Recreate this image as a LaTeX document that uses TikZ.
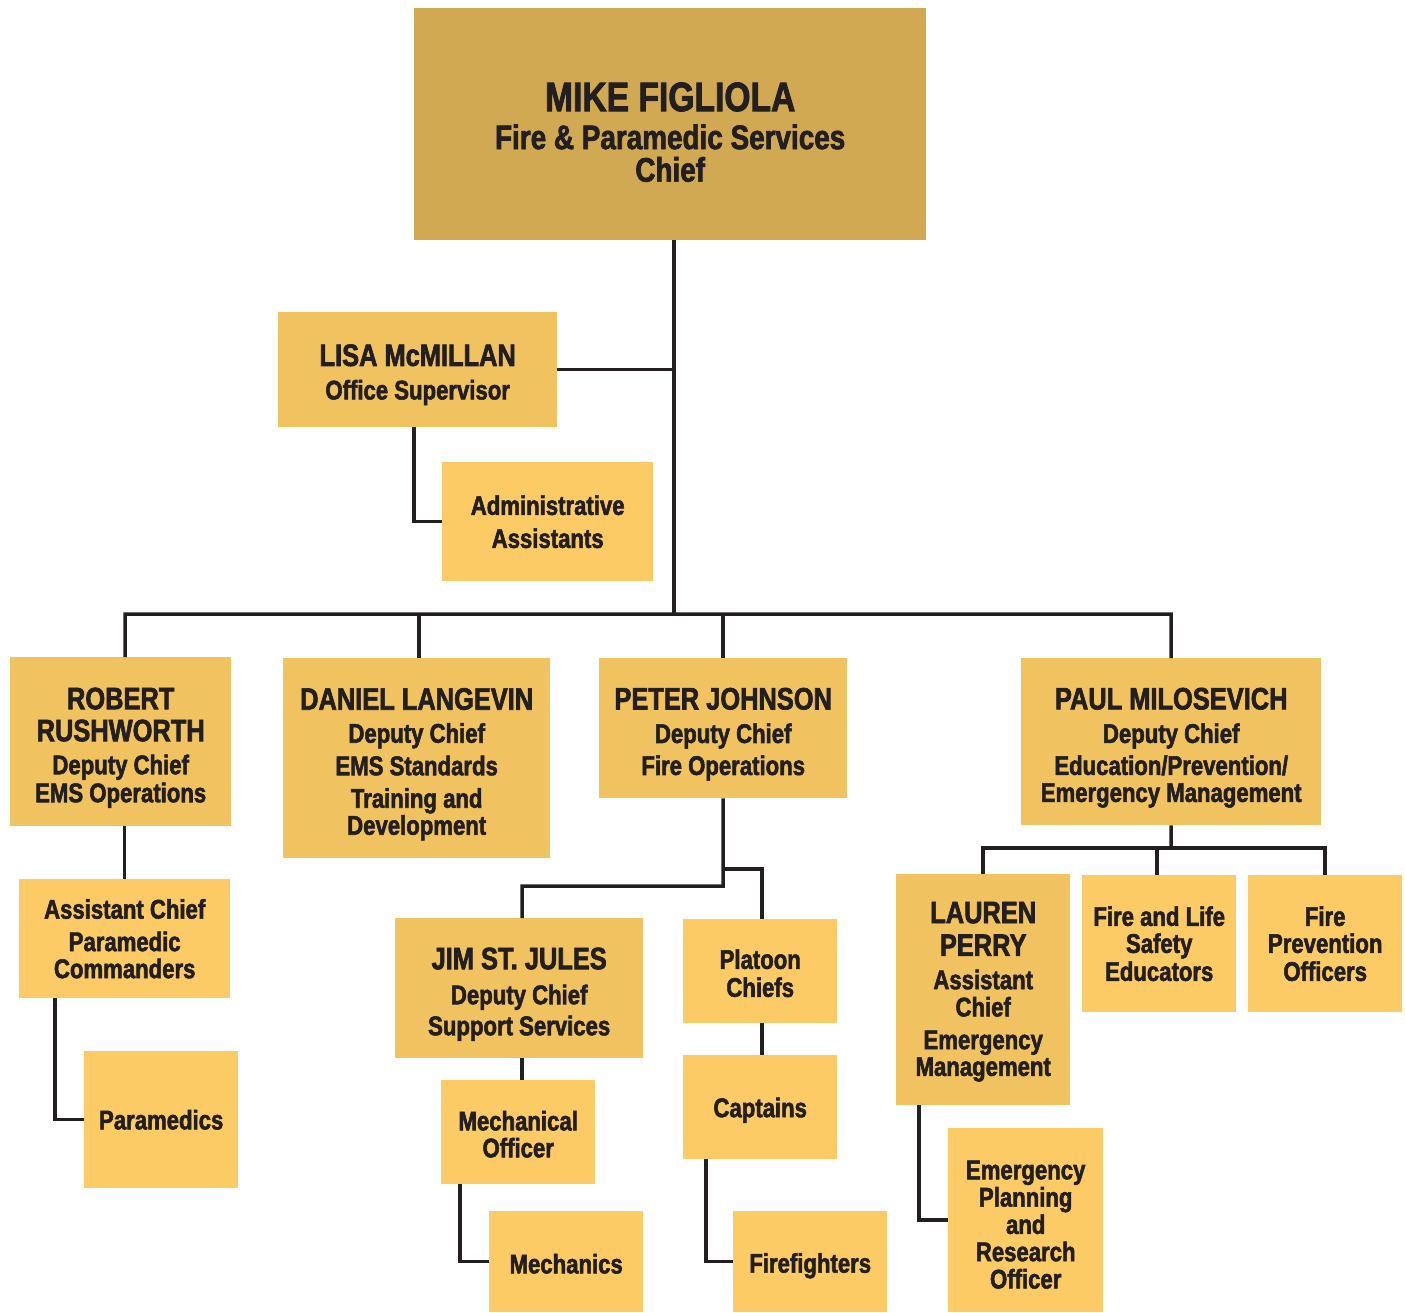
\documentclass[tikz,border=0pt]{standalone}
\usepackage{fontspec}
\newfontfamily\cf{Liberation Sans}[FakeStretch=0.82, FakeBold=2]
\definecolor{topc}{RGB}{210,169,83}
\definecolor{namedc}{RGB}{240,194,96}
\definecolor{plainc}{RGB}{253,203,101}
\definecolor{ink}{RGB}{35,31,32}
\newcommand\nmf{\fontsize{31pt}{0pt}\selectfont}
\newcommand\sbf{\fontsize{27pt}{0pt}\selectfont}
\newcommand\tnf{\fontsize{41pt}{0pt}\selectfont}
\newcommand\tsf{\fontsize{34pt}{0pt}\selectfont}
\newcommand\lbfont{\cf\bfseries\sbf\lineskiplimit=-1000pt\relax\lineskip=0pt\relax}
\tikzset{
  box/.style={rectangle, anchor=north west, inner sep=0pt},
  named/.style={box, fill=namedc},
  plain/.style={box, fill=plainc},
  lbl/.style={inner sep=0pt, align=center, text=ink, font=\lbfont},
  conn/.style={draw=ink, line width=3.5pt},
}
\begin{document}
\begin{tikzpicture}[x=1pt,y=-1pt]
\useasboundingbox (0,0) rectangle (1405,1312);
\fill[white] (0,0) rectangle (1405,1312);

\node[box, fill=topc, minimum width=512pt, minimum height=232pt,
  label={[lbl,yshift=-8pt]center:{\tnf MIKE FIGLIOLA\\[38pt]\tsf Fire \& Paramedic Services\\[32.5pt]\tsf Chief}}] (chief) at (414,8) {};

\node[named, minimum width=279pt, minimum height=115pt,
  label={[lbl,yshift=-5pt]center:{\nmf LISA McMILLAN\\[33.5pt]Office Supervisor}}] (lisa) at (278,312) {};
\node[plain, minimum width=211pt, minimum height=119pt,
  label={[lbl]center:{Administrative\\[33pt]Assistants}}] (admin) at (442,462) {};

\node[named, minimum width=221pt, minimum height=169pt,
  label={[lbl,yshift=-6pt]center:{\nmf ROBERT\\[32pt]\nmf RUSHWORTH\\[33pt]Deputy Chief\\[28pt]EMS Operations}}] (rob) at (10,657) {};
\node[named, minimum width=267pt, minimum height=200pt,
  label={[lbl,yshift=-6pt]center:{\nmf DANIEL LANGEVIN\\[33pt]Deputy Chief\\[32.5pt]EMS Standards\\[32.5pt]Training and\\[27pt]Development}}] (daniel) at (283,658) {};
\node[named, minimum width=248pt, minimum height=140pt,
  label={[lbl,yshift=-6pt]center:{\nmf PETER JOHNSON\\[33.5pt]Deputy Chief\\[32pt]Fire Operations}}] (peter) at (599,658) {};
\node[named, minimum width=300pt, minimum height=167pt,
  label={[lbl,yshift=-6pt]center:{\nmf PAUL MILOSEVICH\\[33.5pt]Deputy Chief\\[32pt]Education/Prevention/\\[27pt]Emergency Management}}] (paul) at (1021,658) {};

\node[plain, minimum width=211pt, minimum height=119pt,
  label={[lbl]center:{Assistant Chief\\[32.5pt]Paramedic\\[27pt]Commanders}}] (asst) at (19,879) {};
\node[plain, minimum width=154pt, minimum height=137pt,
  label={[lbl]center:{Paramedics}}] (para) at (84,1051) {};

\node[named, minimum width=248pt, minimum height=140pt,
  label={[lbl,yshift=-6pt]center:{\nmf JIM ST. JULES\\[35pt]Deputy Chief\\[31pt]Support Services}}] (jim) at (395,918) {};
\node[plain, minimum width=154pt, minimum height=104pt,
  label={[lbl,yshift=-2pt]center:{Mechanical\\[27pt]Officer}}] (mech) at (441,1080) {};
\node[plain, minimum width=154pt, minimum height=101pt,
  label={[lbl,yshift=-2pt]center:{Mechanics}}] (mechs) at (489,1211) {};

\node[plain, minimum width=154pt, minimum height=104pt,
  label={[lbl,yshift=-2pt]center:{Platoon\\[28pt]Chiefs}}] (plat) at (683,919) {};
\node[plain, minimum width=154pt, minimum height=104pt,
  label={[lbl,yshift=-3pt]center:{Captains}}] (capt) at (683,1055) {};
\node[plain, minimum width=154pt, minimum height=101pt,
  label={[lbl,yshift=-4pt]center:{Firefighters}}] (ff) at (733,1211) {};

\node[named, minimum width=174pt, minimum height=231pt,
  label={[lbl,yshift=-2pt]center:{\nmf LAUREN\\[32.7pt]\nmf PERRY\\[33.3pt]Assistant\\[27.3pt]Chief\\[32.7pt]Emergency\\[26.7pt]Management}}] (lauren) at (896,874) {};
\node[plain, minimum width=154pt, minimum height=137pt,
  label={[lbl]center:{Fire and Life\\[27pt]Safety\\[28pt]Educators}}] (edu) at (1082,875) {};
\node[plain, minimum width=154pt, minimum height=137pt,
  label={[lbl]center:{Fire\\[27pt]Prevention\\[28pt]Officers}}] (prev) at (1248,875) {};
\node[plain, minimum width=155pt, minimum height=184pt,
  label={[lbl,yshift=-4.5pt]center:{Emergency\\[27.3pt]Planning\\[27.3pt]and\\[27.3pt]Research\\[27.3pt]Officer}}] (ep) at (948,1128) {};

% connectors
\coordinate (tk) at (674,614);
\coordinate (busL) at (125,614);
\coordinate (busR) at (1171,614);
\coordinate (pj) at (723,886);
\coordinate (pp) at (723,869);
\coordinate (pm) at (1171,848);

\draw[conn] (chief.south -| tk) -- (tk);
\draw[conn] (lisa.east) -- (lisa.east -| tk);
\draw[conn] ([xshift=-3.5pt]lisa.south) |- (admin.west);
\draw[conn] (busL |- rob.north) -- (busL) -- (busR) -- (paul.north);
\draw[conn] ([xshift=2.5pt]daniel.north) -- ([xshift=2.5pt]daniel.north |- busL);
\draw[conn] (peter.north) -- (peter.north |- busL);
\draw[conn] (asst.north) -- (asst.north |- rob.south);
\draw[conn] ([xshift=36pt]asst.south west) |- (para.west);
\draw[conn] (peter.south) -- (pj) -| ([xshift=3pt]jim.north);
\draw[conn] (pp) -| ([xshift=2pt]plat.north);
\draw[conn] ([xshift=3pt]jim.south) -- ([xshift=3pt]jim.south |- mech.north);
\draw[conn] ([xshift=19pt]mech.south west) |- (mechs.west);
\draw[conn] ([xshift=2pt]plat.south) -- ([xshift=2pt]capt.north);
\draw[conn] ([xshift=23pt]capt.south west) |- (ff.west);
\draw[conn] (paul.south) -- (pm);
\draw[conn] (lauren.north) |- (pm) -| (prev.north);
\draw[conn] ([xshift=-2pt]edu.north) -- ([xshift=-2pt]edu.north |- pm);
\draw[conn] ([xshift=23pt]lauren.south west) |- (ep.west);
\end{tikzpicture}
\end{document}
